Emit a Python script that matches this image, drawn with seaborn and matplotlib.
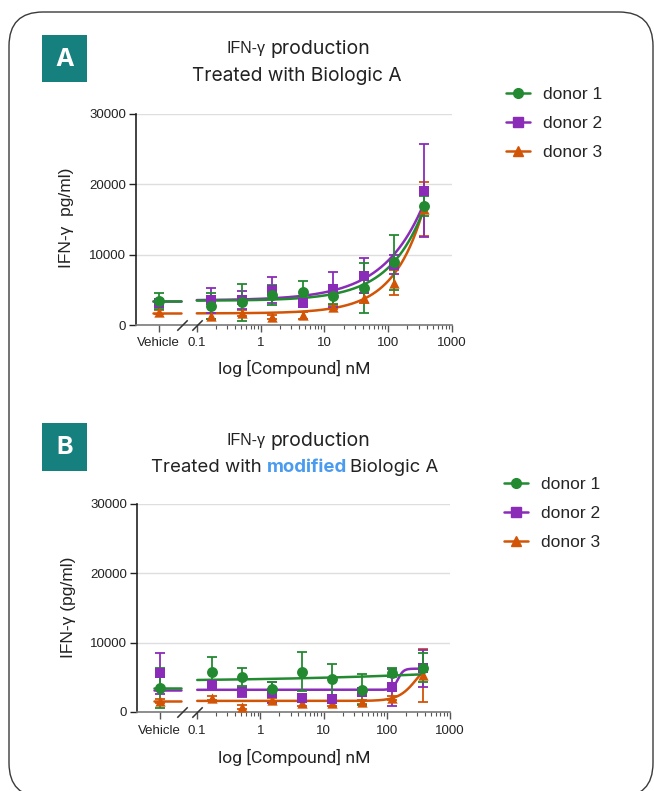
import numpy as np
import pandas as pd
import matplotlib
matplotlib.use("Agg")
import matplotlib.pyplot as plt
import seaborn as sns
from matplotlib.patches import FancyBboxPatch, Rectangle
from matplotlib.lines import Line2D
from matplotlib.transforms import IdentityTransform
from matplotlib.ticker import NullFormatter

# ---------------- data ----------------
donors = ["donor 1", "donor 2", "donor 3"]
conc = [0.169, 0.508, 1.52, 4.57, 13.7, 41.2, 123.0, 370.0]

# Panel A
A_veh = [3450, 3100, 1900]
A_veh_err = [1150, 500, 300]
A_d1 = [2700, 3220, 4300, 4650, 4150, 5300, 8900, 16900]
A_d1_err = [1900, 2680, 1400, 1650, 1100, 3560, 3900, 1450]
A_d2 = [3500, 3600, 5000, 3150, 5050, 7000, 8600, 19100]
A_d2_err = [1760, 1300, 1890, 600, 2450, 2460, 1300, 6600]
A_d3 = [1300, 1750, 1100, 1400, 2550, 3800, 6000, 16500]
A_d3_err = [400, 400, 300, 500, 300, 700, 1800, 3900]
A_veh_line = [3420, 3460, 1660]
# fitted 4PL curve parameters (bottom, top, EC50, hill)
A_fit_bottom = [3450, 3500, 1650]
A_fit_top = [1183500, 721300, 2661000]
A_fit_ec50 = [1e5, 1e5, 1e5]
A_fit_hill = [0.8, 0.7, 0.92]

# Panel B
B_veh = [3500, 5580, 1590]
B_veh_err = [2900, 3000, 300]
B_d1 = [5820, 5010, 3320, 5820, 4720, 3180, 5680, 6400]
B_d1_err = [2170, 1300, 970, 2800, 2230, 2240, 700, 2050]
B_d2 = [3900, 2930, 2800, 1980, 1830, 2930, 3560, 6300]
B_d2_err = [600, 700, 1500, 600, 500, 400, 2700, 2650]
B_d3 = [1980, 770, 1730, 1250, 1250, 1490, 1970, 5300]
B_d3_err = [300, 300, 300, 400, 400, 300, 300, 3800]
B_veh_line = [3420, 3180, 1590]
B_fit_bottom = [4383, 3200, 1600]
B_fit_top = [10563, 6250, 8000]
B_fit_ec50 = [1e6, 150, 300]
B_fit_hill = [0.2, 10, 3]

colors = {"donor 1": "#238a32", "donor 2": "#8a2cb8", "donor 3": "#d25406"}
markers = {"donor 1": "o", "donor 2": "s", "donor 3": "^"}
msizes = {"donor 1": 62, "donor 2": 50, "donor 3": 55}

# positions (layout only)
VEH_X = 0.0254
VEH_LINE = (0.0204, 0.0561)
BREAKS = [0.0582, 0.1]

W, H = 654, 791
sns.set_theme(style="white")
plt.rcParams["font.family"] = ["Liberation Sans", "DejaVu Sans"]

fig = plt.figure(figsize=(W / 100, H / 100), dpi=100)

# rounded outer frame
frame = FancyBboxPatch((9, H - 797), 644, 797 - 12,
                       boxstyle="round,pad=0,rounding_size=34",
                       transform=IdentityTransform(), facecolor="none",
                       edgecolor="#3a3a3a", linewidth=1.0)
fig.add_artist(frame)


def four_pl(x, b, t, c, h):
    return b + (t - b) / (1.0 + (c / x) ** h)


def draw_panel(rect, veh, veh_err, series, errs, veh_line, fb, ft, fc, fh):
    ax = fig.add_axes(rect)
    ax.set_xscale("log")
    ax.set_xlim(0.01114, 1000)
    ax.set_ylim(0, 30000)
    ax.set_yticks([0, 10000, 20000, 30000])
    ax.yaxis.grid(True, color="#dedede", lw=1.0)
    ax.xaxis.grid(False)
    ax.set_axisbelow(True)
    for s in ["top", "right"]:
        ax.spines[s].set_visible(False)
    ax.spines["left"].set_color("#222222")
    ax.spines["left"].set_linewidth(1.2)
    ax.spines["bottom"].set_color("#7a7a7a")
    ax.spines["bottom"].set_linewidth(1.2)

    ax.set_xticks([VEH_X, 0.1, 1, 10, 100, 1000])
    ax.set_xticklabels(["Vehicle", "0.1", "1", "10", "100", "1000"])
    minor = [m * d for d in [0.1, 1, 10, 100] for m in range(2, 10)]
    ax.set_xticks(minor, minor=True)
    ax.xaxis.set_minor_formatter(NullFormatter())
    ax.tick_params(axis="x", which="major", length=5, width=1, color="#555555",
                   labelsize=9.5, pad=4, bottom=True)
    ax.tick_params(axis="x", which="minor", length=3, width=0.8, color="#555555", bottom=True)
    ax.tick_params(axis="y", which="major", length=5, width=1, color="#222222",
                   labelsize=9.5, pad=2, left=True)
    for lab in ax.get_xticklabels() + ax.get_yticklabels():
        lab.set_color("#222222")

    xs = np.logspace(-1, np.log10(370), 300)
    order = [2, 1, 0]
    for i in order:
        d = donors[i]
        c = colors[d]
        # fitted curve
        cdf = pd.DataFrame({"x": xs, "y": four_pl(xs, fb[i], ft[i], fc[i], fh[i])})
        sns.lineplot(data=cdf, x="x", y="y", ax=ax, color=c, lw=1.8,
                     estimator=None, sort=False, zorder=3)
        vdf = pd.DataFrame({"x": list(VEH_LINE), "y": [veh_line[i]] * 2})
        sns.lineplot(data=vdf, x="x", y="y", ax=ax, color=c, lw=1.8,
                     estimator=None, sort=False, zorder=3)
        # error bars
        ax.errorbar([VEH_X] + conc, [veh[i]] + series[i], yerr=[veh_err[i]] + errs[i],
                    fmt="none", ecolor=c, elinewidth=1.3, capsize=3.8, capthick=1.3,
                    zorder=4, clip_on=False)
        pdf = pd.DataFrame({"x": [VEH_X] + conc, "y": [veh[i]] + series[i]})
        sns.scatterplot(data=pdf, x="x", y="y", ax=ax, color=c, marker=markers[d],
                        s=msizes[d], linewidth=0, zorder=5, clip_on=False)
    ax.set_xlabel("")
    ax.set_ylabel("")
    ax.set_xlim(0.01114, 1000)
    ax.set_ylim(0, 30000)
    # axis break marks
    ax.plot(BREAKS, [0, 0], ls="none", marker=[(-1, -1), (1, 1)], ms=7.5, mew=1.1,
            color="#333333", clip_on=False, zorder=6)
    return ax


axA = draw_panel([136 / W, 1 - 325 / H, 316 / W, 211 / H], A_veh, A_veh_err,
                 [A_d1, A_d2, A_d3], [A_d1_err, A_d2_err, A_d3_err], A_veh_line,
                 A_fit_bottom, A_fit_top, A_fit_ec50, A_fit_hill)
axB = draw_panel([137 / W, 1 - 712 / H, 313 / W, 208 / H], B_veh, B_veh_err,
                 [B_d1, B_d2, B_d3], [B_d1_err, B_d2_err, B_d3_err], B_veh_line,
                 B_fit_bottom, B_fit_top, B_fit_ec50, B_fit_hill)


def px(x, y):
    return x / W, 1 - y / H


# labels
fig.text(*px(66, 218), "IFN-γ  pg/ml)", rotation=90, ha="center", va="center",
         fontsize=12.5, color="#222222")
fig.text(*px(68, 607), "IFN-γ (pg/ml)", rotation=90, ha="center", va="center",
         fontsize=12.5, color="#222222")
fig.text(*px(294, 368), "log [Compound] nM", ha="center", va="center",
         fontsize=12.6, color="#222222", family=["Roboto", "DejaVu Sans"])
fig.text(*px(294, 757), "log [Compound] nM", ha="center", va="center",
         fontsize=12.6, color="#222222", family=["Roboto", "DejaVu Sans"])

# panel letter boxes
teal = "#16807f"
for (y0, y1, letter) in [(35, 82, "A"), (423, 471, "B")]:
    fig.add_artist(Rectangle((42, H - y1), 45, y1 - y0, transform=IdentityTransform(),
                             facecolor=teal, edgecolor="none"))
    fig.text(*px(64.5, (y0 + y1) / 2 + 1), letter, ha="center", va="center", color="white",
             fontsize=18, fontweight="bold", family=["Inter", "DejaVu Sans"])

# titles
tfont = ["Inter", "DejaVu Sans"]
for ytop in [49, 441]:
    fig.text(*px(265, ytop), "IFN-γ", ha="right", va="center", fontsize=11.5,
             color="#222222", family=["Liberation Sans", "DejaVu Sans"])
    fig.text(*px(270, ytop), "production", ha="left", va="center", fontsize=14,
             color="#222222", family=tfont)
fig.text(*px(296.5, 76), "Treated with Biologic A", ha="center", va="center", fontsize=13.8,
         color="#222222", family=tfont)
fig.text(*px(151, 467), "Treated with", ha="left", va="center", fontsize=13.4,
         color="#222222", family=tfont)
fig.text(*px(267, 467), "modified", ha="left", va="center", fontsize=13.4,
         color="#4a9bf0", family=tfont, fontweight="bold")
fig.text(*px(350, 467), "Biologic A", ha="left", va="center", fontsize=13.4,
         color="#222222", family=tfont)

# legends
handles = [Line2D([0], [0], color=colors[d], marker=markers[d], ms=7, lw=1.8) for d in donors]
for (xl, yl) in [(506, 87), (504, 477)]:
    fig.legend(handles, donors, loc="upper left", bbox_to_anchor=px(xl, yl),
               frameon=False, fontsize=12.5, handlelength=1.4, handletextpad=0.75,
               labelspacing=0.8, borderaxespad=0, borderpad=0)

fig.savefig("out.png", dpi=100)
